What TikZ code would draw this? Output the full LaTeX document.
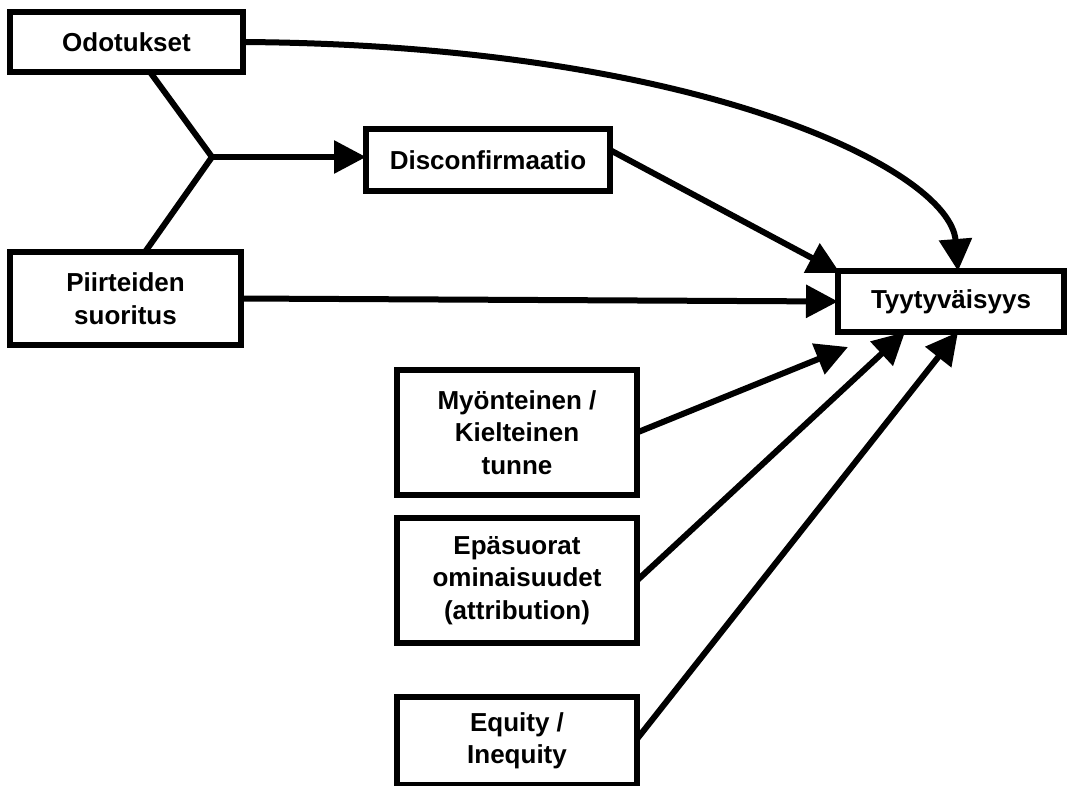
\documentclass[tikz,border=0pt]{standalone}
\usepackage{fontspec}
\setmainfont{Liberation Sans}
\usetikzlibrary{arrows.meta}
\begin{document}
\begin{tikzpicture}[x=1pt,y=-1pt,
  box/.style={draw=black,line width=6pt,rectangle,inner sep=0pt,outer sep=0pt,align=center,
    font=\fontsize{26}{32.5}\selectfont\bfseries},
  conn/.style={line width=6pt,line join=miter},
  arr/.style={line width=6pt,-{Triangle[length=32pt,width=32pt]}}]
\useasboundingbox (0,0) rectangle (1067,785);
\node[box,minimum width=233pt,minimum height=60pt] (odo) at (126.5,42) {Odotukset};
\node[box,minimum width=231pt,minimum height=93pt] (piir) at (125.5,298.5) {Piirteiden\\suoritus};
\node[box,minimum width=244pt,minimum height=62pt] (disc) at (488,160) {Disconfirmaatio};
\node[box,minimum width=226pt,minimum height=61pt] (tyy) at (951,301.5) {Tyytyväisyys};
\node[box,minimum width=240pt,minimum height=125pt] (myo) at (517,432.5) {Myönteinen /\\Kielteinen\\tunne};
\node[box,minimum width=240pt,minimum height=125pt] (epa) at (517,580.5) {Epäsuorat\\ominaisuudet\\(attribution)};
\node[box,minimum width=240pt,minimum height=88pt] (equ) at (517,741) {Equity /\\Inequity};
\coordinate (j) at (212,157);
\coordinate (tmyo) at (848,347);
\draw[conn] ([xshift=23.5pt]odo.south) -- (j) -- ([xshift=19.5pt]piir.north);
\draw[arr] (j) -- (j -| disc.west);
\draw[arr] (odo.east) .. controls (700,45) and (950,170) .. ([xshift=7pt]tyy.north);
\draw[arr] ([yshift=10pt]disc.east) -- ([xshift=2pt,yshift=-2pt]tyy.north west);
\draw[arr] (piir.east) -- (tyy.west);
\draw[arr] (myo.east) -- (tmyo);
\draw[arr] (epa.east) -- ([xshift=-46pt]tyy.south);
\draw[arr] ([yshift=2pt]equ.east) -- ([xshift=7pt]tyy.south);
\end{tikzpicture}
\end{document}
